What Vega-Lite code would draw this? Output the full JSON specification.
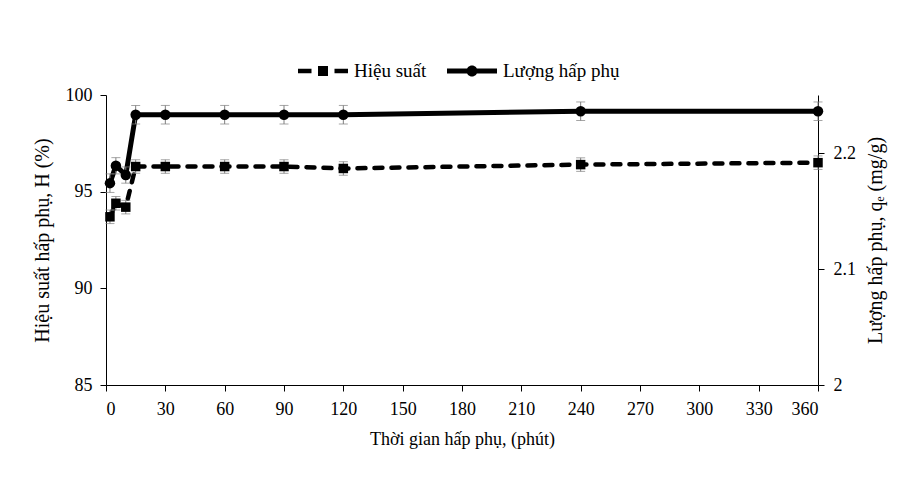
{
  "$schema": "https://vega.github.io/schema/vega-lite/v6.json",
  "width": 712,
  "height": 290,
  "autosize": {"type": "none"},
  "padding": {"left": 106, "top": 95, "right": 89, "bottom": 95},
  "background": "white",
  "config": {
    "view": {"stroke": null},
    "font": "Liberation Serif",
    "axis": {
      "domainColor": "black",
      "domainWidth": 1,
      "tickColor": "black",
      "tickSize": 6,
      "labelColor": "black",
      "labelFont": "Liberation Serif",
      "labelFontSize": 18,
      "titleColor": "black",
      "titleFont": "Liberation Serif",
      "titleFontSize": 18,
      "titleFontWeight": "normal",
      "grid": false
    }
  },
  "datasets": {
    "kinetics": [
      {"t": 2, "H": 93.7, "Hlo": 93.35, "Hhi": 94.05, "q": 2.174, "qlo": 2.166, "qhi": 2.182},
      {"t": 5, "H": 94.4, "Hlo": 94.05, "Hhi": 94.75, "q": 2.189, "qlo": 2.182, "qhi": 2.196},
      {"t": 10, "H": 94.2, "Hlo": 93.85, "Hhi": 94.55, "q": 2.181, "qlo": 2.174, "qhi": 2.188},
      {"t": 15, "H": 96.3, "Hlo": 95.95, "Hhi": 96.65, "q": 2.233, "qlo": 2.225, "qhi": 2.241},
      {"t": 30, "H": 96.3, "Hlo": 95.95, "Hhi": 96.65, "q": 2.233, "qlo": 2.225, "qhi": 2.241},
      {"t": 60, "H": 96.3, "Hlo": 95.95, "Hhi": 96.65, "q": 2.233, "qlo": 2.225, "qhi": 2.241},
      {"t": 90, "H": 96.3, "Hlo": 95.95, "Hhi": 96.65, "q": 2.233, "qlo": 2.225, "qhi": 2.241},
      {"t": 120, "H": 96.2, "Hlo": 95.85, "Hhi": 96.55, "q": 2.233, "qlo": 2.225, "qhi": 2.241},
      {"t": 240, "H": 96.4, "Hlo": 96.05, "Hhi": 96.75, "q": 2.236, "qlo": 2.228, "qhi": 2.244},
      {"t": 360, "H": 96.5, "Hlo": 96.15, "Hhi": 96.85, "q": 2.236, "qlo": 2.228, "qhi": 2.244}
    ]
  },
  "data": {"name": "kinetics"},
  "encoding": {
    "x": {
      "field": "t",
      "type": "quantitative",
      "scale": {"domain": [0, 360], "nice": false, "zero": false},
      "axis": {
        "values": [0, 30, 60, 90, 120, 150, 180, 210, 240, 270, 300, 330, 360],
        "title": "Thời gian hấp phụ, (phút)",
        "labelPadding": 9,
        "titlePadding": 12
      }
    }
  },
  "layer": [
    {
      "encoding": {
        "y": {
          "field": "H",
          "type": "quantitative",
          "title": "Hiệu suất hấp phụ, H (%)",
          "scale": {"domain": [85, 100], "nice": false, "zero": false},
          "axis": {"orient": "left", "values": [85, 90, 95, 100], "labelPadding": 8, "titlePadding": 13, "titleFontSize": 20}
        }
      },
      "layer": [
        {
          "mark": {"type": "line", "color": "black", "strokeWidth": 4.5, "strokeDash": [8, 9], "strokeCap": "round"}
        },
        {
          "mark": {
            "type": "errorbar",
            "ticks": {"size": 9, "thickness": 1, "color": "#7f7f7f"},
            "rule": {"strokeWidth": 1, "color": "#7f7f7f"}
          },
          "encoding": {
            "y": {"field": "Hlo", "type": "quantitative", "title": "Hiệu suất hấp phụ, H (%)"},
            "y2": {"field": "Hhi"}
          }
        },
        {
          "mark": {"type": "point", "shape": "square", "filled": true, "color": "black", "size": 90, "opacity": 1}
        }
      ]
    },
    {
      "encoding": {
        "y": {
          "field": "q",
          "type": "quantitative",
          "title": "Lượng hấp phụ, qₑ (mg/g)",
          "scale": {"domain": [2, 2.25], "nice": false, "zero": false},
          "axis": {"orient": "right", "values": [2, 2.1, 2.2], "format": "~g", "labelPadding": 9, "titlePadding": 10, "titleAngle": 270, "titleBaseline": "top", "titleFontSize": 20}
        }
      },
      "layer": [
        {
          "mark": {"type": "line", "color": "black", "strokeWidth": 5}
        },
        {
          "mark": {
            "type": "errorbar",
            "ticks": {"size": 9, "thickness": 1, "color": "#7f7f7f"},
            "rule": {"strokeWidth": 1, "color": "#7f7f7f"}
          },
          "encoding": {
            "y": {"field": "qlo", "type": "quantitative", "title": "Lượng hấp phụ, qₑ (mg/g)"},
            "y2": {"field": "qhi"}
          }
        },
        {
          "mark": {"type": "point", "shape": "circle", "filled": true, "color": "black", "size": 110, "opacity": 1}
        }
      ]
    },
    {
      "transform": [{"filter": "false"}],
      "mark": {"type": "point", "filled": true, "color": "black", "opacity": 1},
      "encoding": {
        "shape": {
          "field": "series",
          "type": "nominal",
          "scale": {
            "domain": ["Hiệu suất", "Lượng hấp phụ"],
            "range": [
              "M-1,-0.09H-0.46V0.09H-1Z M-0.2,-0.2H0.2V0.2H-0.2Z M0.46,-0.09H1V0.09H0.46Z",
              "M-1,-0.1H1V0.1H-1Z M-0.22,0A0.22,0.22 0 1,1 0.22,0A0.22,0.22 0 1,1 -0.22,0Z"
            ]
          },
          "legend": {
            "orient": "none",
            "legendX": 192,
            "legendY": -49,
            "direction": "horizontal",
            "title": null,
            "symbolSize": 2500,
            "symbolFillColor": "black",
            "symbolStrokeWidth": 0,
            "symbolOpacity": 1,
            "labelFont": "Liberation Serif",
            "labelFontSize": 19,
            "labelColor": "black",
            "labelOffset": 6,
            "columnPadding": 20
          }
        }
      }
    }
  ],
  "resolve": {"scale": {"y": "independent", "shape": "independent"}}
}
